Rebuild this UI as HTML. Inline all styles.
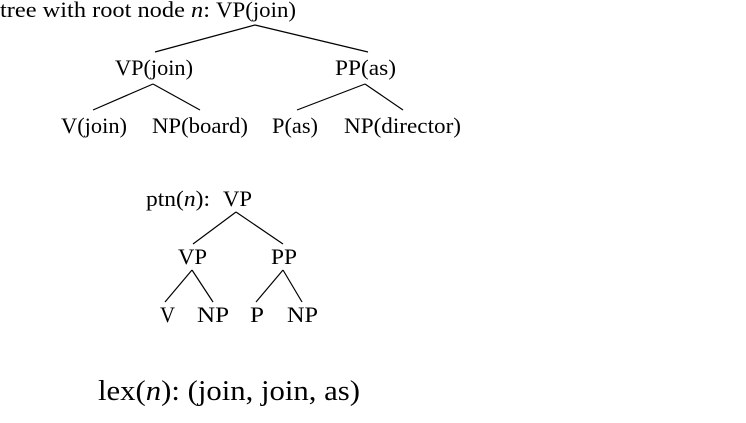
<!DOCTYPE html>
<html><head><meta charset="utf-8"><style>
html,body{margin:0;padding:0;background:#fff;width:746px;height:423px;overflow:hidden}
svg text{font-family:"Liberation Serif",serif;fill:#000}
</style></head><body>
<svg width="746" height="423" viewBox="0 0 746 423">
<g stroke="#000" stroke-width="1.2">
<line x1="255" y1="25" x2="155" y2="52"/><line x1="255" y1="25" x2="368" y2="52"/>
<line x1="153" y1="84" x2="93" y2="110"/><line x1="153" y1="84" x2="200" y2="110"/>
<line x1="365" y1="84" x2="297" y2="110"/><line x1="365" y1="84" x2="403" y2="110"/>
<line x1="236" y1="212" x2="193" y2="244"/><line x1="236" y1="212" x2="283" y2="244"/>
<line x1="192" y1="270" x2="165" y2="302"/><line x1="192" y1="270" x2="213" y2="302"/>
<line x1="283" y1="270" x2="256" y2="302"/><line x1="283" y1="270" x2="302" y2="302"/>
</g>
<g font-size="22">
<text x="0" y="17" textLength="210" lengthAdjust="spacingAndGlyphs">tree with root node <tspan font-style="italic">n</tspan>:</text>
<text x="216" y="17" textLength="80" lengthAdjust="spacingAndGlyphs">VP(join)</text>
<text x="115" y="75" textLength="78" lengthAdjust="spacingAndGlyphs">VP(join)</text>
<text x="335" y="75" textLength="61" lengthAdjust="spacingAndGlyphs">PP(as)</text>
<text x="61" y="133" textLength="66" lengthAdjust="spacingAndGlyphs">V(join)</text>
<text x="152" y="133" textLength="96" lengthAdjust="spacingAndGlyphs">NP(board)</text>
<text x="272" y="133" textLength="46" lengthAdjust="spacingAndGlyphs">P(as)</text>
<text x="344" y="133" textLength="117" lengthAdjust="spacingAndGlyphs">NP(director)</text>
<text x="146" y="206" textLength="64" lengthAdjust="spacingAndGlyphs">ptn(<tspan font-style="italic">n</tspan>):</text>
<text x="223" y="206" textLength="29" lengthAdjust="spacingAndGlyphs">VP</text>
<text x="178" y="264" textLength="29" lengthAdjust="spacingAndGlyphs">VP</text>
<text x="271" y="264" textLength="26" lengthAdjust="spacingAndGlyphs">PP</text>
<text x="160" y="322" textLength="15" lengthAdjust="spacingAndGlyphs">V</text>
<text x="197" y="322" textLength="32" lengthAdjust="spacingAndGlyphs">NP</text>
<text x="250" y="322" textLength="14" lengthAdjust="spacingAndGlyphs">P</text>
<text x="287" y="322" textLength="31" lengthAdjust="spacingAndGlyphs">NP</text>
</g>
<text x="98" y="400" font-size="29" textLength="262" lengthAdjust="spacingAndGlyphs">lex(<tspan font-style="italic">n</tspan>): (join, join, as)</text>
</svg>
</body></html>
